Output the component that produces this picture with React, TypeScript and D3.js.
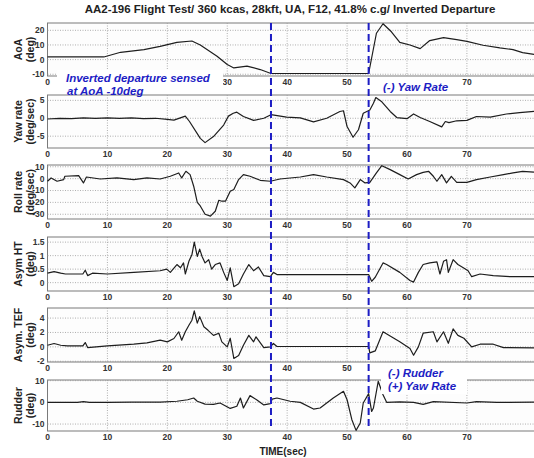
import * as d3 from "d3";

// time ticks shared by every panel
const timeTicks = [0, 10, 20, 30, 40, 50, 60, 70];
const eventTimes = [37.3, 53.6];

// [time (sec), value]
const aoa: [number, number][] = [
  [0, 1.8], [9.4, 1.8], [12.2, 5], [16.1, 6.8], [18.8, 9], [21.6, 11.8], [24.1, 12.7],
  [25.5, 10], [28.3, 2.3], [30, -3.4], [31.1, -5.7], [33.3, -4.5], [35.5, -6.8],
  [37.3, -9.5], [53.6, -9.5], [54.9, 18], [56, 24.5], [57.4, 19], [58.8, 11.8],
  [60.5, 10], [62.2, 7.5], [63.8, 13], [66.1, 15], [68.3, 13.6], [70, 12.5],
  [72.7, 9.8], [75.5, 8], [77.7, 6.8], [79.3, 4.8], [81.2, 3.5],
];

const yawRate: [number, number][] = [
  [0, -0.2], [2, 0], [4, -0.1], [6, 0.1], [8, 0], [10, 0.1], [12, 0], [14, 0.1],
  [16, -0.1], [18, 0], [20, -0.3], [21.1, -0.5], [23, 0.6], [23.7, -0.9], [25.5, -5.6],
  [26.3, -6.8], [27.7, -5.1], [29.4, -1.9], [30.2, 0.6], [31, 1.4], [31.6, 1.7],
  [32.7, 0.5], [34.4, -0.6], [36.1, 0], [37.3, 1.0], [39.9, 0.3], [42.2, 0.1],
  [44.4, -1.0], [46.6, 0], [48.8, 1.9], [49.4, 2.1], [50, -2.3], [51, -5.3],
  [51.9, -3.2], [52.7, 1.4], [53.8, 2.3], [54.4, 4.2], [54.8, 5.8], [55.8, 4.6],
  [57.2, 1.9], [58.3, 0.2], [60, -0.1], [61.1, 1.2], [62.2, 0.2], [63.8, -0.9],
  [65.8, -2.4], [66.4, -0.9], [67, -1.2], [68.3, -0.7], [70, -0.6], [71.6, 0.5],
  [73.9, 0.3], [76.6, 1.2], [78.8, 1.6], [81.2, 1.9],
];

const rollRate: [number, number][] = [
  [0, -2.2], [0.6, 0.6], [1.6, -2.2], [2.7, -0.8], [2.9, 2], [5.2, 2.5], [6.0, -3.6],
  [6.5, 1.4], [8.8, -0.3], [11.6, 0.6], [14.4, -0.8], [16.6, 0.6], [18.8, -0.3],
  [20.5, 2], [21.9, 4.8], [22.4, 0.6], [23.1, 6.2], [23.8, 3.4], [24.4, -6.4],
  [25, -20], [25.5, -23], [26.3, -30], [27.2, -31.6], [28, -27.5], [28.6, -18.2],
  [29.1, -19], [29.7, -19], [30.5, -10.6], [31.1, -9.2], [31.9, -0.8], [32.7, 3.4],
  [33.8, 2], [35.5, -1.4], [37.2, -2.2], [38.8, -0.3], [42.2, 1.4], [44.4, 3.4],
  [46.6, 1.4], [49.4, -0.8], [50.5, -3.6], [51.3, -7.8], [52.2, -0.8], [53, -3.6],
  [53.8, -3.1], [54.9, 4.8], [55.8, 10.9], [57.2, 7.6], [58.8, 3.4], [60.2, -0.3],
  [61.6, 3.4], [62.7, 5.3], [63.6, 6.2], [64.4, 2], [65, -2.2], [65.8, 3.4],
  [66.6, -3.6], [67.4, 2], [68.3, -3.1], [70, -3.1], [71.6, -0.8], [73.9, 1.4],
  [76.1, 3.4], [77.7, 4.8], [79.3, 6.2], [81.2, 5.5],
];

const asymHT: [number, number][] = [
  [0, 0.35], [1.1, 0.41], [2.2, 0.35], [3, 0.32], [5.9, 0.32], [6.3, 0.46], [6.7, 0.26],
  [7.5, 0.35], [10, 0.32], [14.4, 0.38], [18.8, 0.44], [19.9, 0.5], [20.5, 0.38],
  [21.6, 0.67], [22.2, 0.55], [22.7, 0.73], [23, 0.32], [23.6, 0.79], [24.1, 1.03],
  [24.5, 1.5], [25, 0.97], [25.4, 1.24], [25.8, 0.97], [26.3, 0.73], [26.9, 0.85],
  [27.4, 0.5], [28, 0.67], [28.8, 0.73], [29.4, 0.38], [30, 0.08], [30.5, 0.55],
  [31.1, -0.15], [31.9, -0.04], [32.7, 0.32], [33.6, 0.67], [34.4, 0.44], [35.2, 0.58],
  [36.1, 0.26], [37.2, 0.22], [37.7, 0.38], [38.3, 0.3], [53.6, 0.3], [54.1, 0.05],
  [54.7, 0.2], [56, 0.73], [56.6, 0.67], [58.8, 0.38], [60.5, 0.08], [61.1, 0.02],
  [61.9, 0.38], [62.7, 0.67], [63.8, 0.73], [65, 0.77], [65.5, 0.32], [66.1, 0.79],
  [66.6, 0.85], [66.9, 0.38], [67.7, 0.85], [68.5, 0.67], [69.4, 0.55], [70.2, 0.44],
  [70.8, 0.22], [72.2, 0.32], [74.4, 0.26], [77.2, 0.22], [81.2, 0.22],
];

const asymTEF: [number, number][] = [
  [0, 0.23], [1.1, 0.47], [2.2, 0.23], [3.3, 0.14], [5.9, 0.14], [6.3, 0.6], [6.7, -0.1],
  [10, 0.14], [14.4, 0.37], [16.6, 0.56], [18.8, 0.93], [20, 0.7], [21.1, 1.16],
  [21.9, 2.1], [22.4, 0.93], [23, 2.1], [23.6, 3], [24.1, 3.7], [24.5, 5], [25, 3.3],
  [25.4, 4.2], [26.1, 2.8], [26.8, 2.3], [27.7, 1.6], [28.6, 1.9], [29.1, 0.7],
  [30, 0], [30.5, 1.2], [31.1, -1.6], [31.9, -1.2], [32.7, 0.23], [33.6, 1.6],
  [34.4, 0.7], [34.8, 1.4], [36.1, -0.1], [37.2, 0], [37.7, 0.47], [38.3, 0.05],
  [53.6, 0.05], [53.8, -0.84], [54.7, -0.56], [56, 2.1], [58.8, 0.7], [60.5, -0.23],
  [61.1, -1.16], [61.9, 0], [62.7, 1.9], [64.4, 2.1], [65, 0.7], [66.1, 2.1],
  [66.9, 0.5], [67.7, 2.5], [68.5, 1.6], [69.5, 1.2], [70.8, 0], [72.2, 0.37],
  [74.4, 0.37], [76.1, -0.1], [81.2, -0.15],
];

const rudder: [number, number][] = [
  [0, 0], [5, 0], [6, 0.3], [7, 0], [10, 0], [14, 0.1], [18.8, 0.1], [21.6, 0.5],
  [23.4, 1.2], [24.4, 2], [25, 0.5], [26.3, -0.8], [27.7, -0.9], [28.8, -0.3],
  [30.5, -2.8], [31.6, -1.8], [32.2, 2], [32.7, -2.6], [33.8, 3.1], [34.9, 1.2],
  [36.1, -1.2], [37.2, -0.6], [37.5, 1.5], [38.3, 2], [40.5, 0.5], [42.2, 0],
  [44.4, -3.1], [45.5, -2.6], [47.7, 2], [49.4, 5.1], [50, 1.2], [50.8, -8],
  [51.5, -12.9], [52.2, -9.5], [52.7, -0.3], [53.6, 4], [54.1, -4.2], [54.4, -2.6],
  [55.2, 9.7], [56, 3.5], [56.6, 0], [58.8, 0.2], [61.1, 0], [62.7, -0.9], [64.4, 0.3],
  [70, -0.3], [71.6, 0.3], [75, 0], [81.2, 0.1],
];

const title = "AA2-196 Flight Test/ 360 kcas, 28kft, UA, F12, 41.8% c.g/ Inverted Departure";

// hidden: time tick labels covered by the annotation boxes
const panels = [
  { data: aoa, label: ["AoA", "(deg)"], top: 23, bottom: 76, domain: [-11.2, 25], ticks: [-10, 0, 10, 20], hidden: [10, 20, 60] },
  { data: yawRate, label: ["Yaw rate", "(deg/sec)"], top: 95, bottom: 148, domain: [-8.3, 6.5], ticks: [-5, 0, 5], hidden: [] },
  { data: rollRate, label: ["Roll rate", "(deg/sec)"], top: 165, bottom: 219, domain: [-34, 11.5], ticks: [-30, -20, -10, 0, 10], hidden: [] },
  { data: asymHT, label: ["Asym HT", "(deg)"], top: 237, bottom: 291, domain: [-0.31, 1.69], ticks: [0, 0.5, 1, 1.5], hidden: [] },
  { data: asymTEF, label: ["Asym. TEF", "(deg)"], top: 308, bottom: 362, domain: [-2.1, 5.4], ticks: [-2, 0, 2, 4], hidden: [60, 70] },
  { data: rudder, label: ["Rudder", "(deg)"], top: 380, bottom: 431, domain: [-13.2, 10.3], ticks: [-10, 0, 10], hidden: [] },
];

const W = 534;
const H = 458;
const left = 47.5;
const font = "'Liberation Sans', Arial, sans-serif";
const blue = "#1d1dc4";

const x = d3.scaleLinear().domain([0, 81.2]).range([left, W]);

function Panel({ p }: { p: (typeof panels)[number] }) {
  const y = d3.scaleLinear().domain(p.domain).range([p.bottom, p.top]);
  const line = d3.line<[number, number]>().x((d) => x(d[0])).y((d) => y(d[1]));
  const mid = (p.top + p.bottom) / 2;
  return (
    <g>
      <rect x={left} y={p.top} width={W - left + 2} height={p.bottom - p.top} fill="#fdfdfd" stroke="#7a7a7a" strokeWidth={1} />
      {p.ticks.map((t) => (
        <line key={"h" + t} x1={left} x2={W} y1={y(t)} y2={y(t)} stroke="#9a9a9a" strokeWidth={0.8} strokeDasharray="1,1.5" />
      ))}
      {timeTicks.slice(1).map((t) => (
        <line key={"v" + t} x1={x(t)} x2={x(t)} y1={p.top} y2={p.bottom} stroke="#9a9a9a" strokeWidth={0.8} strokeDasharray="1,1.5" />
      ))}
      <path d={line(p.data) ?? ""} fill="none" stroke="#1e1e1e" strokeWidth={1.2} strokeLinejoin="round" />
      {p.ticks.map((t) => (
        <text key={"yl" + t} x={left - 3} y={y(t)} dy="0.35em" textAnchor="end" fontSize={8.5} fontWeight="bold" fill="#333">
          {String(t)}
        </text>
      ))}
      {timeTicks
        .filter((t) => !(p.hidden as number[]).includes(t))
        .map((t) => (
          <text key={"xl" + t} x={x(t)} y={p.bottom + 9} textAnchor="middle" fontSize={8.5} fontWeight="bold" fill="#333">
            {t}
          </text>
        ))}
      <text transform={`translate(22,${mid}) rotate(-90)`} textAnchor="middle" fontSize={10.5} fontWeight="bold" fill="#222">
        {p.label[0]}
      </text>
      <text transform={`translate(34,${mid}) rotate(-90)`} textAnchor="middle" fontSize={10.5} fontWeight="bold" fill="#222">
        {p.label[1]}
      </text>
    </g>
  );
}

export default function App() {
  return (
    <svg width={W} height={H} style={{ position: "absolute", left: 0, top: 0, background: "#fff", fontFamily: font }}>
      <rect width={W} height={H} fill="#fff" />
      <text x={290} y={13} textAnchor="middle" fontSize={11.5} fontWeight="bold" fill="#222">
        {title}
      </text>
      {panels.map((p, i) => (
        <Panel key={i} p={p} />
      ))}
      <text x={283} y={455} textAnchor="middle" fontSize={10} fontWeight="bold" fill="#222">
        TIME(sec)
      </text>
      {eventTimes.map((t) => (
        <line key={t} x1={x(t)} x2={x(t)} y1={23} y2={430} stroke={blue} strokeWidth={2} strokeDasharray="7,4" />
      ))}
      <rect x={57} y={70} width={166} height={24} fill="#fff" />
      <text x={66} y={82} fontSize={11.5} fontWeight="bold" fontStyle="italic" fill={blue}>
        Inverted departure sensed
      </text>
      <text x={67} y={95} fontSize={11.5} fontWeight="bold" fontStyle="italic" fill={blue}>
        at AoA -10deg
      </text>
      <rect x={376} y={78} width={84} height={15} fill="#fff" />
      <text x={383} y={91} fontSize={11.5} fontWeight="bold" fontStyle="italic" fill={blue}>
        (-) Yaw Rate
      </text>
      <rect x={381} y={365} width={86} height={29} fill="#fff" />
      <text x={388} y={377} fontSize={11.5} fontWeight="bold" fontStyle="italic" fill={blue}>
        (-) Rudder
      </text>
      <text x={388} y={390} fontSize={11.5} fontWeight="bold" fontStyle="italic" fill={blue}>
        (+) Yaw Rate
      </text>
    </svg>
  );
}
